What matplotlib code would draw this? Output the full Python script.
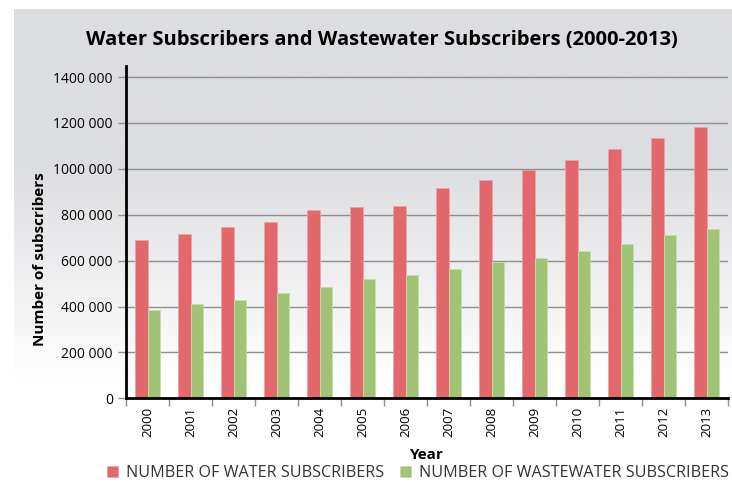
import numpy as np
import matplotlib.pyplot as plt
from matplotlib.colors import LinearSegmentedColormap

years = [str(y) for y in range(2000, 2014)]
water = [690000, 718000, 748000, 770000, 820000, 832000, 836000,
         918000, 952000, 995000, 1040000, 1087000, 1133000, 1183000]
wastewater = [385000, 410000, 428000, 460000, 484000, 522000, 538000,
              562000, 592000, 610000, 642000, 672000, 712000, 737000]
yticks = [0, 200000, 400000, 600000, 800000, 1000000, 1200000, 1400000]

RED = '#e3686b'
GREEN = '#a1c375'

plt.rcParams['font.family'] = ['Open Sans', 'DejaVu Sans']

fig = plt.figure(figsize=(7.32, 4.84), dpi=100)
W, H = 732, 484

# fond gris en dégradé vers le blanc (haut à y=9 px)
bg = fig.add_axes([14 / W, 0, 1 - 14 / W, (H - 9) / H])
bg.set_axis_off()
ys = np.linspace(0, 1, 400)
pix = H - ys * (H - 9)          # position en pixels depuis le haut
grad = np.clip((380 - pix) / (380 - 160), 0, 1)
gcmap = LinearSegmentedColormap.from_list('g', ['#ffffff', '#dcdde0'])
bg.imshow(grad[:, None], aspect='auto', cmap=gcmap, origin='lower',
          extent=[0, 1, 0, 1], vmin=0, vmax=1)
bg.set_xlim(0, 1)
bg.set_ylim(0, 1)

ax = fig.add_axes([126 / W, (H - 398.3) / H, (728 - 126) / W, (398.3 - 66) / H])
ax.patch.set_alpha(0)

x = np.arange(len(years)) + 0.5
bw = 0.285
ax.bar(x - bw / 2, water, bw, color=RED, edgecolor='#eba3a3', linewidth=0.6,
       label='NUMBER OF WATER SUBSCRIBERS', zorder=3)
ax.bar(x + bw / 2, wastewater, bw, color=GREEN, edgecolor='#c8dcaf', linewidth=0.6,
       label='NUMBER OF WASTEWATER SUBSCRIBERS', zorder=3)

ax.set_xlim(0, len(years))
ax.set_ylim(0, 1448000)
ax.set_yticks(yticks)
ax.set_yticklabels(['0'] + [f'{v // 1000} 000' for v in yticks[1:]], fontsize=10)
ax.yaxis.grid(True, color='#8e8e92', linewidth=1, zorder=0)
ax.set_xticks(x)
ax.set_xticklabels(years, rotation=90, fontsize=9.5)
ax.set_xticks(np.arange(len(years) + 1), minor=True)
ax.tick_params(axis='x', which='major', length=0, pad=6)
ax.tick_params(axis='x', which='minor', length=6, color='#8e8e92', width=1)
ax.tick_params(axis='y', length=6, color='#8e8e92', width=1)

for s in ['top', 'right']:
    ax.spines[s].set_visible(False)
for s in ['left', 'bottom']:
    ax.spines[s].set_linewidth(2)
    ax.spines[s].set_color('black')
    ax.spines[s].set_zorder(4)

ax.set_xlabel('Year', fontsize=11, fontweight='bold', labelpad=8)
ax.set_ylabel('Number of subscribers', fontsize=11, fontweight='bold')
ax.yaxis.set_label_coords((47 - 126) / 602, (398.3 - 259) / 332.3)

fig.text(382 / W, 1 - 40 / H, 'Water Subscribers and Wastewater Subscribers (2000-2013)',
         ha='center', va='center', fontsize=14.5, fontweight='bold')

fig.legend(loc='center', bbox_to_anchor=(418 / W, 1 - 473 / H), ncol=2, frameon=False,
           fontsize=11.6, handlelength=0.7, handleheight=0.7, handletextpad=0.5,
           columnspacing=1.0, labelcolor='#333333')

fig.savefig('out.png', dpi=100)
